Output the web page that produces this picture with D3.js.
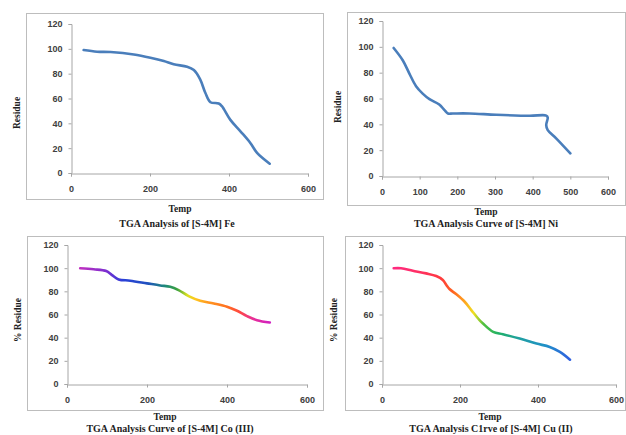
<!DOCTYPE html>
<html>
<head>
<meta charset="utf-8">
<script src="https://cdn.jsdelivr.net/npm/d3@7"></script>
<style>
  html, body { margin: 0; padding: 0; background: #fff; }
  svg { display: block; }
</style>
</head>
<body>
<svg id="chart" width="626" height="435"></svg>
<script>
// ---------- DATA ----------
const feTemp    = [32, 66, 100, 159, 201, 235, 260, 294, 311, 327, 340, 353, 374, 382, 403, 429, 454, 471, 503];
const feResidue = [99, 97.7, 97.4, 95.5, 92.9, 90.2, 87.5, 85.6, 82.9, 75.4, 64.6, 57, 56, 53.8, 43, 33.6, 24.2, 16.2, 7.5];

const niTemp    = [31, 55, 72.7, 90.4, 108, 126, 152, 166, 175, 188, 232, 303, 392, 436, 440, 436, 440, 463, 500];
const niResidue = [99.1, 89.6, 79.3, 69.5, 63.8, 59.5, 55.3, 51, 48.4, 48.4, 48.4, 47.4, 46.6, 46.8, 45.3, 39.4, 35.5, 29, 17.5];

const coTemp    = [33, 66.7, 98, 112.5, 129, 158, 200, 233, 258, 279, 304, 333, 367, 400, 425, 450, 475, 507];
const coResidue = [99.9, 99, 97.5, 94, 90.3, 89.2, 86.9, 85.1, 84, 81.1, 75.9, 71.9, 69.5, 66.7, 63.2, 58.6, 55.1, 53.1];

const cuTemp    = [30, 48.9, 78.9, 113, 139, 156, 165, 173, 190, 212, 229, 250, 259, 285, 310, 353, 396, 430, 456, 482];
const cuResidue = [99.9, 99.9, 97.8, 95.5, 93.2, 89.8, 85.4, 82, 77.6, 71, 63.8, 55.1, 52.2, 45, 43, 39.2, 34.9, 32, 27.7, 21];

const yTicks      = [0, 20, 40, 60, 80, 100, 120];
const xTicks200   = [0, 200, 400, 600];
const xTicks100   = [0, 100, 200, 300, 400, 500, 600];

const titles = [
  "TGA  Analysis of [S-4M]  Fe",
  "TGA Analysis Curve of [S-4M]  Ni",
  "TGA Analysis  Curve of [S-4M] Co (III)",
  "TGA Analysis  C1rve of [S-4M] Cu (II)"
];
const xLabel = "Temp";
const yLabels = ["Residue", "Residue", "% Residue", "% Residue"];

// gradient colour stops (temperature, colour)
const coStopTemps  = [33, 100, 140, 200, 245, 275, 300, 320, 350, 400, 430, 465, 507];
const coStopColors = ["#c030c0", "#7a2ed0", "#2a40d8", "#2050c0", "#1f8a7a", "#3aa040", "#d8e020", "#ffc820", "#ff9a20", "#ff7020", "#ff4a40", "#e83098", "#d020c0"];
const cuStopTemps  = [30, 100, 150, 180, 210, 235, 260, 300, 350, 420, 482];
const cuStopColors = ["#ff2a80", "#ff3060", "#ff3a40", "#ff6020", "#ffa020", "#f0e020", "#50c040", "#20b068", "#20a0a0", "#2090c8", "#3060e0"];

// ---------- DRAW ----------
const svg = d3.select("#chart");
const defs = svg.append("defs");

const panels = [
  { box: [26, 13, 323, 199], px: [71, 308], py: [173, 24], temp: feTemp, res: feResidue, xt: xTicks200,
    title: titles[0], ylab: yLabels[0], ylabX: 17, ylabY: 113, tempY: 212, titleY: 227, tempX: 180, titleX: 177, color: "#4a7ebb" },
  { box: [347, 12, 625, 205], px: [382, 608], py: [176, 21], temp: niTemp, res: niResidue, xt: xTicks100,
    title: titles[1], ylab: yLabels[1], ylabX: 338, ylabY: 107, tempY: 215, titleY: 227, tempX: 486, titleX: 486, color: "#4a7ebb" },
  { box: [27, 236, 323, 410], px: [67, 307], py: [384, 245], temp: coTemp, res: coResidue, xt: xTicks200,
    title: titles[2], ylab: yLabels[2], ylabX: 18, ylabY: 320, tempY: 420, titleY: 432, tempX: 165, titleX: 170,
    grad: { id: "gCo", t: coStopTemps, c: coStopColors } },
  { box: [345, 236, 625, 410], px: [382, 616], py: [384, 245], temp: cuTemp, res: cuResidue, xt: xTicks200,
    title: titles[3], ylab: yLabels[3], ylabX: 334, ylabY: 320, tempY: 420, titleY: 432, tempX: 490, titleX: 491,
    grad: { id: "gCu", t: cuStopTemps, c: cuStopColors } }
];

panels.forEach(p => {
  const g = svg.append("g");
  // frame
  g.append("rect")
    .attr("x", p.box[0] + 0.5).attr("y", p.box[1] + 0.5)
    .attr("width", p.box[2] - p.box[0]).attr("height", p.box[3] - p.box[1])
    .attr("fill", "#fff").attr("stroke", "#bdbdbd").attr("stroke-width", 1);

  const x = d3.scaleLinear().domain([0, 600]).range(p.px);
  const y = d3.scaleLinear().domain([0, 120]).range(p.py);

  // axes
  const xAxis = d3.axisBottom(x).tickValues(p.xt).tickSize(3).tickPadding(9).tickFormat(d3.format("d"));
  const yAxis = d3.axisLeft(y).tickValues(yTicks).tickSize(3).tickPadding(6).tickFormat(d3.format("d"));

  const gx = g.append("g").attr("transform", `translate(0,${Math.round(y(0)) + 0.5})`).call(xAxis);
  const gy = g.append("g").attr("transform", `translate(${Math.round(x(0)) + 0.5},0)`).call(yAxis);
  [gx, gy].forEach(a => {
    a.select(".domain").attr("stroke", "#a6a6a6");
    a.selectAll(".tick line").attr("stroke", "#a6a6a6");
    a.selectAll(".tick text")
      .attr("fill", "#404040")
      .style("font-family", "'Liberation Sans', Arial, sans-serif")
      .style("font-weight", "bold")
      .style("font-size", "9px");
  });

  // line
  const line = d3.line()
    .x((d, i) => x(p.temp[i]))
    .y(d => y(d))
    .curve(d3.curveCatmullRom.alpha(0.5));

  let stroke = p.color;
  if (p.grad) {
    const lg = defs.append("linearGradient").attr("id", p.grad.id)
      .attr("gradientUnits", "userSpaceOnUse")
      .attr("x1", x(p.grad.t[0])).attr("x2", x(p.grad.t[p.grad.t.length - 1]))
      .attr("y1", 0).attr("y2", 0);
    const t0 = p.grad.t[0], t1 = p.grad.t[p.grad.t.length - 1];
    p.grad.t.forEach((t, i) => {
      lg.append("stop").attr("offset", (t - t0) / (t1 - t0)).attr("stop-color", p.grad.c[i]);
    });
    stroke = `url(#${p.grad.id})`;
  }

  g.append("path")
    .datum(p.res)
    .attr("d", line)
    .attr("fill", "none")
    .attr("stroke", stroke)
    .attr("stroke-width", 2.6)
    .attr("stroke-linecap", "round")
    .attr("stroke-linejoin", "round");

  // labels
  const serif = "'Liberation Serif', 'Times New Roman', serif";
  g.append("text")
    .attr("x", p.tempX).attr("y", p.tempY)
    .attr("text-anchor", "middle")
    .style("font-family", serif).style("font-weight", "bold").style("font-size", "9.5px")
    .attr("fill", "#222")
    .text(xLabel);
  g.append("text")
    .attr("transform", `translate(${p.ylabX},${p.ylabY}) rotate(-90)`)
    .attr("text-anchor", "middle").attr("dy", "0.35em")
    .style("font-family", serif).style("font-weight", "bold").style("font-size", "9.5px")
    .attr("fill", "#222")
    .text(p.ylab);
  g.append("text")
    .attr("x", p.titleX).attr("y", p.titleY)
    .attr("text-anchor", "middle")
    .style("font-family", serif).style("font-weight", "bold").style("font-size", "10px")
    .attr("fill", "#222")
    .text(p.title);
});
</script>
</body>
</html>
